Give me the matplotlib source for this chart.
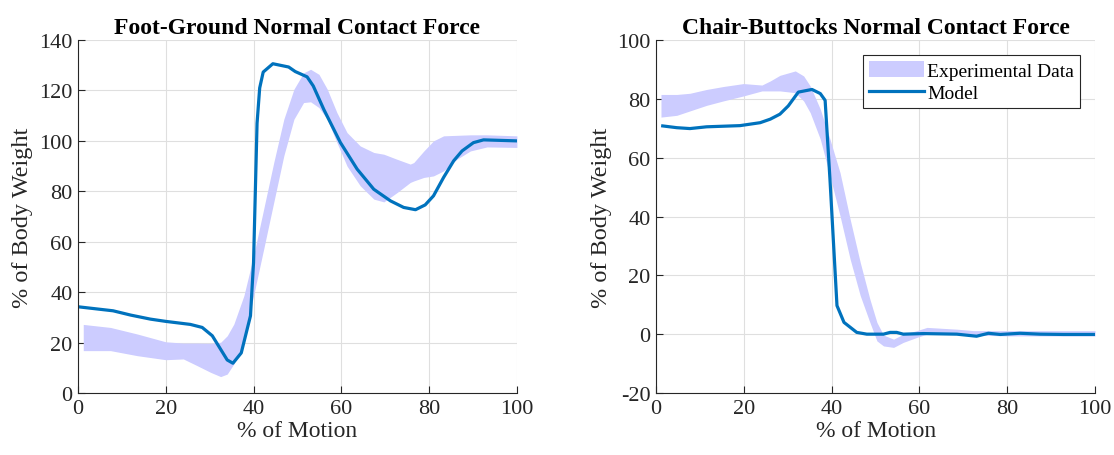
import numpy as np
from matplotlib import pyplot as plt
from matplotlib.patches import Patch
from matplotlib.lines import Line2D

# Foot-ground: model curve (% motion, % body weight)
fg_model_x = [0, 8, 12, 16.5, 20, 25.6, 28.3, 30.6, 34, 35.3, 37.2, 39.3, 40, 40.8, 41.4, 42.2,
              44.4, 48, 49.5, 52.2, 53.6, 56, 59.8, 63.6, 67.4, 71.2, 74.2, 76.9, 79.1, 81,
              83.3, 85.6, 87.5, 90.1, 92.4, 100]
fg_model_y = [34.2, 32.6, 30.9, 29.3, 28.4, 27.2, 26.0, 22.7, 13.1, 11.8, 15.9, 30.6, 51.8, 107,
              121, 127.3, 130.6, 129.3, 127.5, 125.4, 121.8, 112.5, 99.3, 88.8, 80.8, 76.2, 73.6,
              72.7, 74.6, 78.2, 85.5, 92.1, 96, 99.3, 100.4, 100]

# Foot-ground: experimental band
fg_band_x = [1.2, 7.4, 13.5, 20, 24, 27.2, 30.2, 32.5, 34, 35.5, 37.8, 40, 42.3, 44.6, 46.9, 49.2,
             51.4, 53, 54.9, 56.8, 59, 61.3, 64.3, 67.4, 69.7, 72.7, 75.7, 76.5, 78.8, 81, 83.3,
             86.3, 89.4, 93.2, 100]
fg_band_hi = [27.2, 26, 23.4, 20.3, 19.8, 19.8, 19.7, 20.1, 22.7, 27.3, 38.6, 54.4, 72.9, 91.4,
              108.6, 120.5, 127, 128.4, 126.4, 120.5, 111.2, 103.3, 98, 95.4, 94.7, 92.7, 90.8,
              91.4, 96, 100, 102, 102.2, 102.4, 102.4, 102]
fg_band_lo = [16.8, 16.8, 14.8, 13.2, 13.5, 10.8, 8.2, 6.5, 7.5, 11.5, 20, 38.6, 57, 75.6, 94.1,
              108.6, 115.2, 115.5, 113.2, 108.6, 99.3, 90, 82.2, 76.9, 75.8, 79.5, 83.5, 84.1,
              85.5, 86.1, 88.1, 92.7, 96, 97.6, 97.4]

# Chair-buttocks: model curve
cb_model_x = [1.5, 4.7, 7.7, 11.5, 15.3, 19.1, 23.7, 26, 28.2, 30.1, 32.4, 35.5, 37.4, 38.5, 39.6,
              41.2, 42.8, 45.7, 48, 51.8, 53.3, 54.8, 56.3, 60.9, 68.5, 73, 75.7, 78.4, 82.9,
              87.5, 92.8, 100]
cb_model_y = [70.8, 70.2, 69.9, 70.5, 70.7, 70.9, 71.9, 73.1, 74.8, 77.6, 82.3, 83.2, 81.8, 79.5,
              52.7, 9.7, 4, 0.6, 0, 0, 0.6, 0.6, 0, 0.2, 0, -0.7, 0.3, -0.1, 0.3, 0, -0.1, -0.1]

# Chair-buttocks: experimental band
cb_band_x = [1.1, 4.7, 7.7, 11.5, 15.3, 19.9, 24.1, 26, 28.2, 31.7, 33.6, 35.1, 37.4, 39.6, 41.9,
             44.2, 46.5, 48.7, 50.3, 51.8, 54.1, 56.3, 59.4, 61.7, 68.5, 72.3, 79.9, 100]
cb_band_hi = [81.5, 81.5, 81.9, 83.2, 84.2, 85.2, 84.7, 86.1, 88, 89.5, 87.8, 84.4, 76.5, 66.3,
              54.9, 39.1, 24.4, 11.9, 4, -0.3, -1.7, 0, 1.2, 2.3, 1.7, 1.2, 1.2, 1.2]
cb_band_lo = [73.8, 74.4, 75.9, 77.8, 79.3, 81, 82.7, 82.7, 82.7, 82.1, 79.3, 75.3, 66.3, 53.8,
              40.2, 25.5, 13.1, 4, -2.3, -4, -4.5, -2.8, -1.1, 0, 0, -0.3, -0.6, -0.6]

band_color = '#ccccff'
line_color = '#0072bd'
axis_color = '#262626'

plt.rcParams['font.family'] = ['Liberation Serif', 'DejaVu Serif']

fig = plt.figure(figsize=(11.14, 4.56), dpi=100)
ax1 = fig.add_axes([0.0700, 0.136, 0.394, 0.774])
ax2 = fig.add_axes([0.5890, 0.136, 0.394, 0.774])


def style_axes(ax, ylim, yticks, title):
    ax.set_xlim(0, 100)
    ax.set_ylim(*ylim)
    ax.set_xticks([0, 20, 40, 60, 80, 100])
    ax.set_yticks(yticks)
    ax.grid(True, color='#dfdfdf', linewidth=0.8)
    ax.set_axisbelow(True)
    for s in ['top', 'right']:
        ax.spines[s].set_visible(False)
    for s in ['left', 'bottom']:
        ax.spines[s].set_color(axis_color)
        ax.spines[s].set_linewidth(0.8)
    ax.tick_params(direction='in', length=5, width=0.8, colors=axis_color,
                   labelsize=16, labelcolor=axis_color, pad=4)
    ax.set_xlabel('% of Motion', fontsize=17, color=axis_color, labelpad=2)
    ax.set_ylabel('% of Body Weight', fontsize=17.5, color=axis_color, labelpad=4)
    ax.set_title(title, fontsize=17, fontweight='bold', pad=5)


ax1.fill_between(fg_band_x, fg_band_lo, fg_band_hi, color=band_color, linewidth=0)
ax1.plot(fg_model_x, fg_model_y, color=line_color, linewidth=2.3)
style_axes(ax1, (0, 140), range(0, 141, 20), 'Foot-Ground Normal Contact Force')

ax2.fill_between(cb_band_x, cb_band_lo, cb_band_hi, color=band_color, linewidth=0)
ax2.plot(cb_model_x, cb_model_y, color=line_color, linewidth=2.3)
style_axes(ax2, (-20, 100), range(-20, 101, 20), 'Chair-Buttocks Normal Contact Force')
ax2.set_yticklabels([str(v) for v in range(-20, 101, 20)])

handles = [Patch(facecolor=band_color, edgecolor='none', label='Experimental Data'),
           Line2D([], [], color=line_color, linewidth=2.3, label='Model')]
leg = ax2.legend(handles=handles, loc='upper right', bbox_to_anchor=(0.966, 0.957),
                 fontsize=14, fancybox=False, framealpha=1, edgecolor=axis_color,
                 handlelength=2.8, handleheight=0.9, handletextpad=0.2, borderpad=0.3,
                 labelspacing=0.2, borderaxespad=0)
leg.get_frame().set_linewidth(0.8)

plt.savefig('out.png', dpi=100)
plt.close()
